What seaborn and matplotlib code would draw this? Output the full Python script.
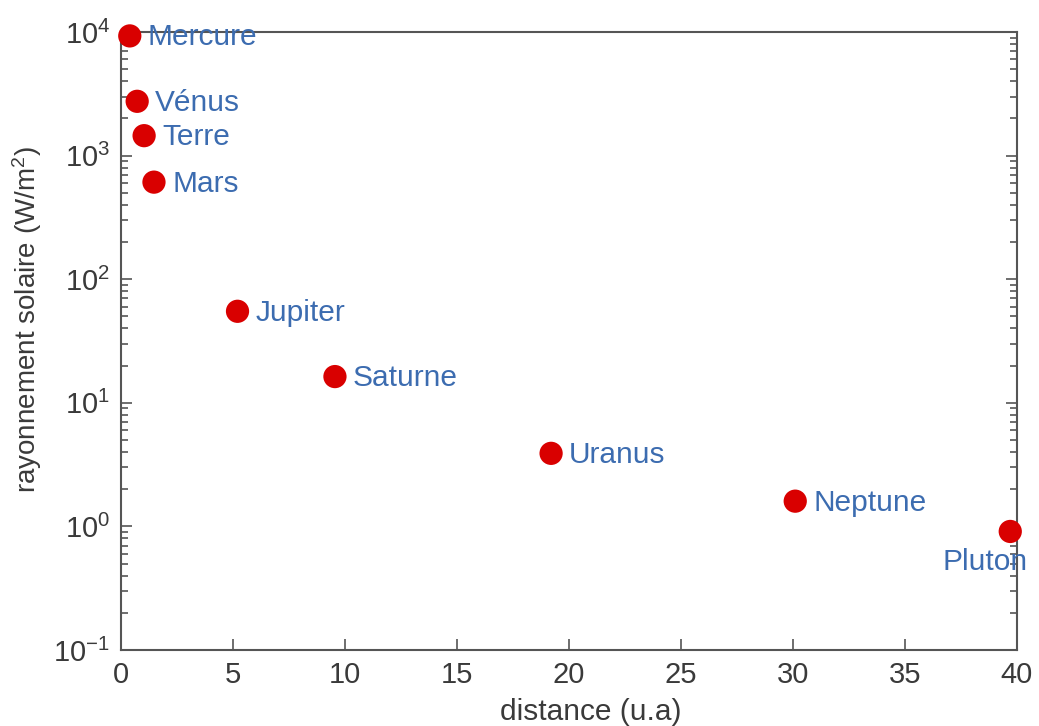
import pandas as pd
import seaborn as sns
import matplotlib.pyplot as plt
from matplotlib.ticker import LogLocator, NullFormatter

# Données
planetes = ["Mercure", "Vénus", "Terre", "Mars", "Jupiter", "Saturne", "Uranus", "Neptune", "Pluton"]
distance = [0.39, 0.72, 1.03, 1.47, 5.2, 9.55, 19.2, 30.1, 39.7]
rayonnement = [9300, 2750, 1450, 610, 55, 16.3, 3.9, 1.6, 0.91]

df = pd.DataFrame({"planete": planetes, "distance": distance, "rayonnement": rayonnement})

sns.set_style("ticks")
plt.rcParams["font.family"] = ["Liberation Sans", "DejaVu Sans"]
plt.rcParams["mathtext.default"] = "regular"

gris = "#555555"
bleu = "#3c6cb0"

fig = plt.figure(figsize=(10.39, 7.26), dpi=100)
ax = fig.add_axes([0.1165, 0.1047, 0.8623, 0.8512])

sns.scatterplot(data=df, x="distance", y="rayonnement", color="#d90000",
                s=280, edgecolor="none", ax=ax, zorder=3, clip_on=False)
ax.set_yscale("log")
ax.set_xlim(0, 40)
ax.set_ylim(1e-1, 1e4)

# étiquettes des planètes
for nom, x, y in zip(planetes, distance, rayonnement):
    if nom == "Pluton":
        ax.annotate(nom, (x, y), xytext=(-18, -22), textcoords="offset points",
                    ha="center", va="center", color=bleu, fontsize=21.5, zorder=4)
    else:
        ax.annotate(nom, (x, y), xytext=(13, -1), textcoords="offset points",
                    ha="left", va="center", color=bleu, fontsize=21.5, zorder=4)

ax.set_xticks(range(0, 41, 5))
ax.yaxis.set_major_locator(LogLocator(base=10, numticks=10))
ax.yaxis.set_minor_locator(LogLocator(base=10, subs=range(2, 10), numticks=20))
ax.yaxis.set_minor_formatter(NullFormatter())

ax.tick_params(axis="both", which="major", direction="in", length=8, width=1.2,
               colors=gris, labelsize=21, labelcolor="#3a3a3a", pad=8)
ax.tick_params(axis="y", which="both", direction="in", right=True, left=True)
ax.tick_params(axis="y", which="minor", length=5, width=1.2, colors=gris)
ax.tick_params(axis="x", top=False)

for sp in ax.spines.values():
    sp.set_visible(True)
    sp.set_color(gris)
    sp.set_linewidth(1.5)

ax.set_xlabel("distance (u.a)", fontsize=21.5, color="#3a3a3a")
ax.set_ylabel("rayonnement solaire (W/m$^2$)", fontsize=20, color="#3a3a3a")
ax.xaxis.set_label_coords(0.524, -0.078)
ax.yaxis.set_label_coords(-0.086, 0.534)

fig.savefig("out.png", dpi=100)
